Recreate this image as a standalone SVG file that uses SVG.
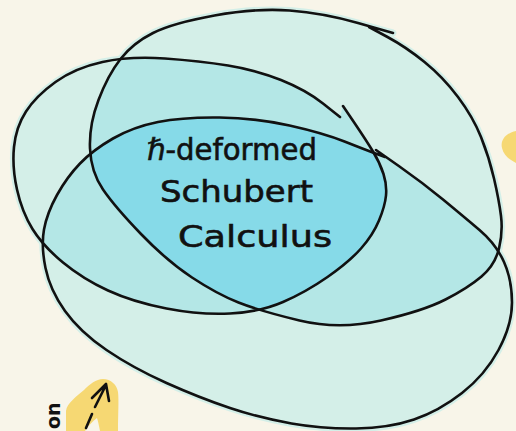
<svg xmlns="http://www.w3.org/2000/svg" width="516" height="431" viewBox="0 0 516 431">
<style>
.light{fill:#d4efe8;stroke:#d4efe8;stroke-width:7;stroke-linejoin:round}
.mid{fill:#b4e7e6}
.bright{fill:#86dae8}
.line{fill:none;stroke:#111;stroke-width:2.6;stroke-linecap:round;stroke-linejoin:round}
.hand{font-family:"DejaVu Sans",sans-serif;font-size:30px;fill:#111;stroke:#111;stroke-width:0.6}
.blob{fill:#f6d873}
</style>
<defs>
<path id="pA" d="M393,33 L358,23 Q323,13 289.5,10.5 Q256,8 214.5,15.5 Q173,23 153,33 Q133,43 120.5,59 Q108,75 98.5,100 Q89,125 90,148.5 Q91,172 103,189.5 Q115,207 141,234 Q167,261 192,277.5 Q217,294 238.5,302.5 Q260,311 299.5,320.5 Q339,330 381,320.5 Q423,311 445.5,299.5 Q468,288 481.5,276.5 Q495,265 499,248.5 Q503,232 501,216 Q499,200 494,178.5 Q489,157 481,137 Q473,117 458,97 Q443,77 424.5,62 Q406,47 387.5,37 L369,27 Z"/>
<path id="pB" d="M340,117 L323,103.5 Q306,90 281,80 Q256,70 228,65.5 Q200,61 165,58.5 Q130,56 102.5,62 Q75,68 55.5,82 Q36,96 26,111.5 Q16,127 14,147 Q12,167 17,189.5 Q22,212 32.5,229 Q43,246 63,262.5 Q83,279 108,290.5 Q133,302 166.5,308.5 Q200,315 230,313.5 Q260,312 283,302 Q306,292 327.5,277 Q349,262 361,248.5 Q373,235 379,220.5 Q385,206 386,195.5 Q387,185 383.5,174 Q380,163 373,151.5 Q366,140 354.5,123 L343,106 Z"/>
<path id="pC" d="M385,157 L375.5,153.5 Q366,150 344.5,141.5 Q323,133 289.5,125.5 Q256,118 219.5,117.5 Q183,117 158,122 Q133,127 113,138.5 Q93,150 80,163.5 Q67,177 57,195 Q47,213 44,229.5 Q41,246 45.5,268 Q50,290 65,311 Q80,332 106.5,350 Q133,368 166.5,383 Q200,398 230,408 Q260,418 291.5,423.5 Q323,429 356,428.5 Q389,428 414,419.5 Q439,411 462,393 Q485,375 498.5,350 Q512,325 512,302.5 Q512,280 504,262 Q496,244 479.5,230 Q463,216 443,199.5 Q423,183 399.5,166.5 L376,150 Z"/>
<clipPath id="cA"><use href="#pA"/></clipPath>
<clipPath id="cB"><use href="#pB"/></clipPath>
</defs>
<rect width="516" height="431" fill="#f8f5e9"/>
<g id="paint">
<use href="#pA" class="light"/>
<use href="#pB" class="light"/>
<use href="#pC" class="light"/>
<g clip-path="url(#cA)"><use href="#pB" class="mid"/><use href="#pC" class="mid"/></g>
<g clip-path="url(#cB)"><use href="#pC" class="mid"/></g>
<g clip-path="url(#cA)"><g clip-path="url(#cB)"><use href="#pC" class="bright"/></g></g>
<path class="blob" d="M516,131 C506,133 500,140 502,148 C504,156 510,160 516,163 Z"/>
<path class="blob" d="M66,431 L66,411 C67,403 76,397 84,390 C90,384 96,379 103,379 C111,379 117,385 118,392 C119,400 118,415 118,431 L100,431 C99,426 98,421 97,418 C93,421 88,426 85,431 Z"/>
</g>
<g id="set-a"><path class="line" stroke-width="2.9" d="M393,33 L358,23 Q323,13 289.5,10.5 Q256,8 214.5,15.5 Q173,23 153,33 Q133,43 120.5,59 Q108,75 98.5,100 Q89,125 90,148.5 Q91,172 103,189.5 Q115,207 141,234 Q167,261 192,277.5 Q217,294 238.5,302.5 Q260,311 299.5,320.5 Q339,330 381,320.5 Q423,311 445.5,299.5 Q468,288 481.5,276.5 Q495,265 499,248.5 Q503,232 501,216 Q499,200 494,178.5 Q489,157 481,137 Q473,117 458,97 Q443,77 424.5,62 Q406,47 387.5,37 L369,27"/></g>
<g id="set-b"><path class="line" d="M340,117 L323,103.5 Q306,90 281,80 Q256,70 228,65.5 Q200,61 165,58.5 Q130,56 102.5,62 Q75,68 55.5,82 Q36,96 26,111.5 Q16,127 14,147 Q12,167 17,189.5 Q22,212 32.5,229 Q43,246 63,262.5 Q83,279 108,290.5 Q133,302 166.5,308.5 Q200,315 230,313.5 Q260,312 283,302 Q306,292 327.5,277 Q349,262 361,248.5 Q373,235 379,220.5 Q385,206 386,195.5 Q387,185 383.5,174 Q380,163 373,151.5 Q366,140 354.5,123 L343,106"/></g>
<g id="set-c"><path class="line" d="M385,157 L375.5,153.5 Q366,150 344.5,141.5 Q323,133 289.5,125.5 Q256,118 219.5,117.5 Q183,117 158,122 Q133,127 113,138.5 Q93,150 80,163.5 Q67,177 57,195 Q47,213 44,229.5 Q41,246 45.5,268 Q50,290 65,311 Q80,332 106.5,350 Q133,368 166.5,383 Q200,398 230,408 Q260,418 291.5,423.5 Q323,429 356,428.5 Q389,428 414,419.5 Q439,411 462,393 Q485,375 498.5,350 Q512,325 512,302.5 Q512,280 504,262 Q496,244 479.5,230 Q463,216 443,199.5 Q423,183 399.5,166.5 L376,150"/></g>
<g id="label">
<text class="hand" x="147" y="160" textLength="170" lengthAdjust="spacingAndGlyphs">ℏ-deformed</text>
<text class="hand" x="160" y="202" textLength="153" lengthAdjust="spacingAndGlyphs">Schubert</text>
<text class="hand" x="178" y="247" textLength="154" lengthAdjust="spacingAndGlyphs">Calculus</text>
</g>
<g id="arrow">
<path class="line" stroke-width="2" d="M86,428 L92,414 M95,407 L106,385 M92,398 L106,384 L109,401"/>
</g>
<g id="side-note">
<text transform="translate(60,429) rotate(-90)" style="font-family:'DejaVu Sans',sans-serif;font-size:19px;font-weight:bold;fill:#111">on</text>
</g>
</svg>
